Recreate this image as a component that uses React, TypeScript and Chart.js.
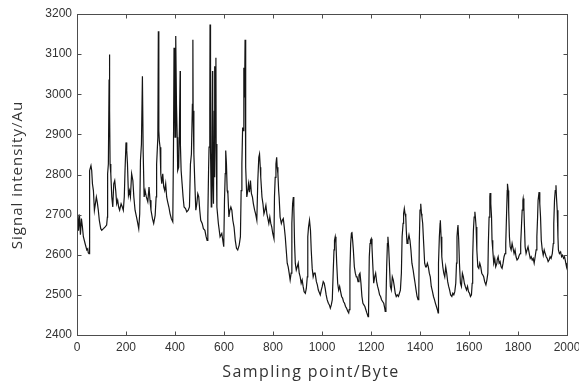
import React, { useEffect, useRef } from 'react';
import { Chart, registerables } from 'chart.js';

Chart.register(...registerables);

// Sampling positions (Byte)
const sampleX = [
  0, 3, 6, 10, 14, 18, 22, 26, 33, 40, 44, 46, 49, 50, 53, 57, 60, 63, 67, 71, 75, 79, 83, 87, 91, 97, 101, 108, 114, 121, 124,
  125, 128, 131, 132, 134, 135, 138, 142, 146, 150, 154, 158, 162, 166, 170, 174, 180, 185, 189, 193,
  196, 200, 203, 206, 210, 214, 218, 223, 228, 232, 237, 243, 248, 252, 256,
  259, 263, 267, 270, 274,
  278, 283, 289, 294, 298, 302, 308, 313, 319, 323,
  325, 330, 332, 334, 336, 339, 342, 346, 350, 354, 358, 362, 366, 370, 375, 380, 385, 391,
  394, 396, 398, 400, 402, 404, 406, 409, 411, 415, 418, 421, 422, 425, 429, 433, 437, 443, 448, 454, 459,
  463, 467, 471, 473, 474, 477, 481, 485, 489, 493, 497, 501, 505, 511, 516, 522, 527, 531, 534,
  537, 539, 542, 543, 545, 548, 550, 553, 554, 557, 560, 561, 563, 564, 567, 568, 571,
  577, 584, 591, 597, 599,
  602, 605, 607, 610, 613, 616, 620, 624, 628, 632, 636, 641, 646, 651, 656, 662, 667,
  670, 673, 676, 678, 681, 684, 686, 688, 689, 693, 697, 700, 704, 708, 712, 716, 720, 725, 729, 734,
  738, 742, 745, 748, 750, 755, 759, 763, 767, 771, 775, 779, 783, 787, 791, 795, 799, 804,
  806, 809, 812, 815, 817, 820, 823, 825, 829, 834, 838, 842, 846, 850, 854, 858,
  862, 866, 870, 874,
  877, 880, 883, 885, 888, 891, 895, 899, 903, 907, 911, 915, 919, 923, 927, 932, 936, 940,
  942, 945, 949, 953, 956, 960, 964, 968, 972, 977, 981, 985, 989, 993, 997, 1001, 1005, 1009, 1013, 1017, 1021, 1026, 1030, 1034, 1038, 1042,
  1046, 1049, 1051, 1054, 1057, 1060, 1064, 1068, 1072, 1076, 1080, 1084, 1088, 1092, 1096, 1100, 1105, 1109, 1111,
  1114, 1117, 1120, 1122, 1125, 1128, 1132, 1136, 1140,
  1143, 1147, 1151, 1155, 1159, 1163, 1167, 1171, 1175, 1179, 1183, 1188, 1190,
  1193, 1196, 1198, 1201, 1204, 1207, 1211, 1215, 1219, 1223, 1227, 1231, 1235, 1239, 1243, 1248, 1252, 1256, 1258, 1261,
  1264, 1267, 1269, 1272, 1275, 1279, 1283, 1287, 1291, 1295, 1299, 1303, 1307, 1312, 1316, 1320, 1324,
  1327, 1331, 1333, 1336, 1339, 1342, 1344, 1347, 1351, 1355, 1359, 1363, 1367, 1372, 1376, 1380, 1384, 1388, 1392, 1395,
  1397, 1400, 1403, 1406, 1408, 1411, 1415, 1419, 1423,
  1426, 1430, 1434, 1438, 1442, 1446, 1451, 1455, 1459, 1463, 1467, 1471, 1474, 1475,
  1476, 1479, 1482, 1483, 1486, 1489, 1493, 1497, 1501, 1505, 1509, 1513, 1517, 1521, 1525, 1530, 1534, 1538, 1542, 1546,
  1549, 1551, 1554, 1555, 1558, 1561, 1565, 1569, 1573, 1577, 1581, 1585, 1590, 1594, 1598, 1602, 1606, 1610, 1613,
  1615, 1618, 1621, 1624, 1626, 1629, 1632, 1636, 1640, 1644, 1648, 1652, 1656, 1660, 1664, 1669, 1673, 1677,
  1679, 1682, 1685, 1686, 1689, 1692, 1694, 1697, 1701, 1705, 1709, 1714,
  1715, 1719, 1723, 1727, 1731, 1735, 1739, 1743, 1747, 1750,
  1753, 1756, 1757, 1760, 1762, 1765, 1768, 1772, 1776, 1780, 1784, 1788, 1792, 1796, 1801, 1805, 1809, 1811,
  1814, 1817, 1820, 1821, 1824, 1826, 1829, 1833, 1837, 1841, 1846, 1850, 1854, 1858, 1862, 1866, 1870, 1874,
  1877, 1880, 1882, 1886, 1889, 1892, 1895, 1899, 1903, 1907, 1911, 1915, 1919, 1923, 1927, 1931, 1935, 1940, 1944,
  1946, 1949, 1952, 1955, 1957, 1960, 1963, 1965, 1969, 1974, 1978, 1982, 1986, 1990, 1994, 1998, 2000,
];

// Signal intensity (Au) at each sampling position
const signal = [
  2680, 2700, 2660, 2700, 2650, 2690, 2670, 2645, 2628, 2612, 2615, 2605, 2603, 2702, 2810, 2822, 2810, 2777, 2760, 2711, 2727, 2744, 2730, 2711, 2686, 2665, 2661, 2665, 2669, 2674, 2694,
  2802, 2826, 3037, 3099, 2960, 2826, 2802, 2744, 2719, 2777, 2785, 2760, 2727, 2736, 2719, 2711, 2727, 2719, 2711, 2744,
  2810, 2880, 2860, 2826, 2748, 2760, 2744, 2802, 2785, 2744, 2711, 2694, 2678, 2665, 2702,
  2835, 2876, 3045, 2860, 2744,
  2760, 2744, 2732, 2769, 2736, 2711, 2690, 2678, 2698, 2744,
  2826, 2893, 3157, 2909, 2884, 2868, 2802, 2777, 2802, 2769, 2760, 2777, 2744, 2732, 2719, 2702, 2690, 2682,
  2884, 3116, 3000, 2893, 3000, 3145, 2975, 2893, 2810, 2818, 2909, 3058, 2876, 2810, 2777, 2744, 2719, 2715, 2707, 2711, 2719,
  2826, 2851, 2975, 3136, 2959, 2851, 2777, 2711, 2727, 2752, 2744, 2711, 2686, 2678, 2665, 2661, 2645, 2636, 2694,
  2810, 2868, 2959, 3174, 2860, 2719, 2835, 3058, 2793, 2727, 2959, 3070, 2793, 3000, 3091, 2876, 2719,
  2678, 2645, 2653, 2628, 2620,
  2736, 2802, 2860, 2826, 2760, 2752, 2694, 2711, 2719, 2711, 2686, 2669, 2636, 2616, 2612, 2624, 2645,
  2760, 2826, 2917, 2909, 3066, 2992, 3136, 2959, 2818, 2744, 2760, 2777, 2756, 2785, 2752, 2744, 2727, 2711, 2702, 2686,
  2785, 2843, 2851, 2818, 2793, 2744, 2727, 2702, 2711, 2723, 2702, 2690, 2678, 2694, 2678, 2669, 2653, 2640,
  2744, 2793, 2826, 2843, 2818, 2802, 2760, 2744, 2694, 2678, 2686, 2690, 2669, 2645, 2612, 2579,
  2570, 2554, 2537, 2554,
  2678, 2727, 2744, 2719, 2628, 2579, 2562, 2570, 2579, 2554, 2545, 2529, 2537, 2521, 2508, 2504, 2516, 2545,
  2645, 2669, 2686, 2661, 2612, 2566, 2545, 2554, 2554, 2533, 2525, 2512, 2506, 2500, 2512, 2521, 2533, 2529, 2516, 2500, 2488, 2479, 2475, 2467, 2475, 2488,
  2562, 2612, 2636, 2645, 2628, 2579, 2529, 2512, 2521, 2508, 2496, 2492, 2483, 2479, 2471, 2467, 2459, 2455, 2463,
  2562, 2628, 2653, 2657, 2636, 2612, 2570, 2554, 2545,
  2545, 2533, 2550, 2554, 2529, 2496, 2479, 2475, 2471, 2463, 2455, 2446, 2463,
  2595, 2628, 2636, 2640, 2620, 2579, 2529, 2545, 2554, 2533, 2521, 2512, 2500, 2496, 2488, 2483, 2479, 2467, 2459, 2479,
  2570, 2628, 2645, 2620, 2579, 2521, 2512, 2545, 2537, 2521, 2504, 2496, 2500, 2496, 2504, 2512, 2554,
  2645, 2678, 2702, 2715, 2702, 2694, 2661, 2628, 2636, 2649, 2636, 2612, 2579, 2562, 2545, 2529, 2512, 2496, 2488, 2496,
  2628, 2711, 2727, 2702, 2694, 2678, 2628, 2579, 2570,
  2570, 2579, 2570, 2554, 2545, 2521, 2508, 2496, 2488, 2479, 2471, 2463, 2455, 2479,
  2579, 2645, 2678, 2686, 2645, 2595, 2570, 2554, 2545, 2570, 2554, 2533, 2521, 2512, 2500, 2496, 2504, 2500, 2508, 2529,
  2579, 2645, 2669, 2674, 2636, 2579, 2529, 2521, 2554, 2545, 2529, 2521, 2512, 2521, 2508, 2504, 2496, 2500, 2529,
  2595, 2661, 2694, 2707, 2694, 2669, 2612, 2570, 2566, 2579, 2570, 2554, 2550, 2545, 2533, 2525, 2537, 2554,
  2628, 2694, 2744, 2754, 2727, 2694, 2636, 2612, 2579, 2591, 2570, 2579,
  2587, 2595, 2579, 2583, 2570, 2566, 2579, 2595, 2603, 2628,
  2694, 2760, 2777, 2760, 2711, 2645, 2620, 2612, 2628, 2616, 2603, 2612, 2595, 2587, 2591, 2599, 2603, 2628,
  2669, 2711, 2736, 2740, 2719, 2678, 2620, 2603, 2612, 2620, 2603, 2591, 2595, 2587, 2591, 2579, 2595, 2612,
  2645, 2694, 2736, 2756, 2727, 2694, 2636, 2612, 2599, 2612, 2603, 2595, 2591, 2583, 2587, 2595, 2591, 2603, 2628,
  2678, 2736, 2760, 2773, 2744, 2711, 2645, 2612, 2603, 2607, 2595, 2599, 2591, 2595, 2583, 2570, 2579,
];

const xMin = 0;
const xMax = 2000;
const xStep = 200;
const yMin = 2400;
const yMax = 3200;
const yStep = 100;
const xTitle = 'Sampling point/Byte';
const yTitle = 'Signal intensity/Au';

const framePlugin = {
  id: 'matlabFrame',
  afterDraw(chart: any) {
    const { ctx, chartArea: a, scales } = chart;
    const L = Math.round(a.left) + 0.5;
    const R = Math.round(a.right) + 0.5;
    const T = Math.round(a.top) + 0.5;
    const B = Math.round(a.bottom) + 0.5;
    const tl = 4;
    ctx.save();
    ctx.strokeStyle = '#4d4d4d';
    ctx.lineWidth = 1;
    ctx.strokeRect(L, T, R - L, B - T);
    ctx.beginPath();
    scales.x.ticks.forEach((t: any) => {
      const px = Math.round(scales.x.getPixelForValue(t.value)) + 0.5;
      ctx.moveTo(px, B);
      ctx.lineTo(px, B - tl);
      ctx.moveTo(px, T);
      ctx.lineTo(px, T + tl);
    });
    scales.y.ticks.forEach((t: any) => {
      const py = Math.round(scales.y.getPixelForValue(t.value)) + 0.5;
      ctx.moveTo(L, py);
      ctx.lineTo(L + tl, py);
      ctx.moveTo(R, py);
      ctx.lineTo(R - tl, py);
    });
    ctx.stroke();

    // axis titles
    ctx.fillStyle = '#333333';
    ctx.textAlign = 'center';
    ctx.textBaseline = 'middle';
    ctx.font = '16px "Open Sans"';
    (ctx as any).letterSpacing = '1.4px';
    ctx.fillText(xTitle, 311, 372);
    ctx.font = '15px "Open Sans"';
    (ctx as any).letterSpacing = '1px';
    ctx.translate(18, 175);
    ctx.rotate(-Math.PI / 2);
    ctx.fillText(yTitle, 0, 0);
    ctx.restore();
  },
};

export default function App() {
  const ref = useRef<HTMLCanvasElement | null>(null);

  useEffect(() => {
    if (!ref.current) return;
    const points = sampleX.map((x, i) => ({ x, y: signal[i] }));
    const tickFont = { family: '"Liberation Sans", Arial, sans-serif', size: 12 };
    const chart = new Chart(ref.current, {
      type: 'line',
      data: {
        datasets: [
          {
            data: points,
            borderColor: '#151515',
            borderWidth: 1.2,
            pointRadius: 0,
            tension: 0,
            fill: false,
          },
        ],
      },
      options: {
        animation: false,
        responsive: false,
        events: [],
        layout: { padding: { top: 14, right: 12, left: 0, bottom: 0 } },
        plugins: { legend: { display: false }, tooltip: { enabled: false } },
        scales: {
          x: {
            type: 'linear',
            min: xMin,
            max: xMax,
            grid: { display: false, drawTicks: false },
            border: { display: false },
            ticks: {
              stepSize: xStep,
              autoSkip: false,
              maxRotation: 0,
              padding: 5,
              color: '#333333',
              font: tickFont,
              callback: (v: any) => String(v),
            },
            afterFit: (s: any) => {
              s.height = 50;
              s.paddingRight = 0;
              s.paddingLeft = 0;
            },
          },
          y: {
            type: 'linear',
            min: yMin,
            max: yMax,
            grid: { display: false, drawTicks: false },
            border: { display: false },
            ticks: {
              stepSize: yStep,
              padding: 5,
              color: '#333333',
              font: tickFont,
              callback: (v: any) => String(v),
            },
            afterFit: (s: any) => {
              s.width = 77;
              s.paddingTop = 0;
              s.paddingBottom = 0;
            },
          },
        },
      },
      plugins: [framePlugin],
    });
    return () => chart.destroy();
  }, []);

  return (
    <div style={{ position: 'absolute', left: 0, top: 0, width: 579, height: 385, background: '#ffffff' }}>
      <canvas ref={ref} width={579} height={385} />
    </div>
  );
}
